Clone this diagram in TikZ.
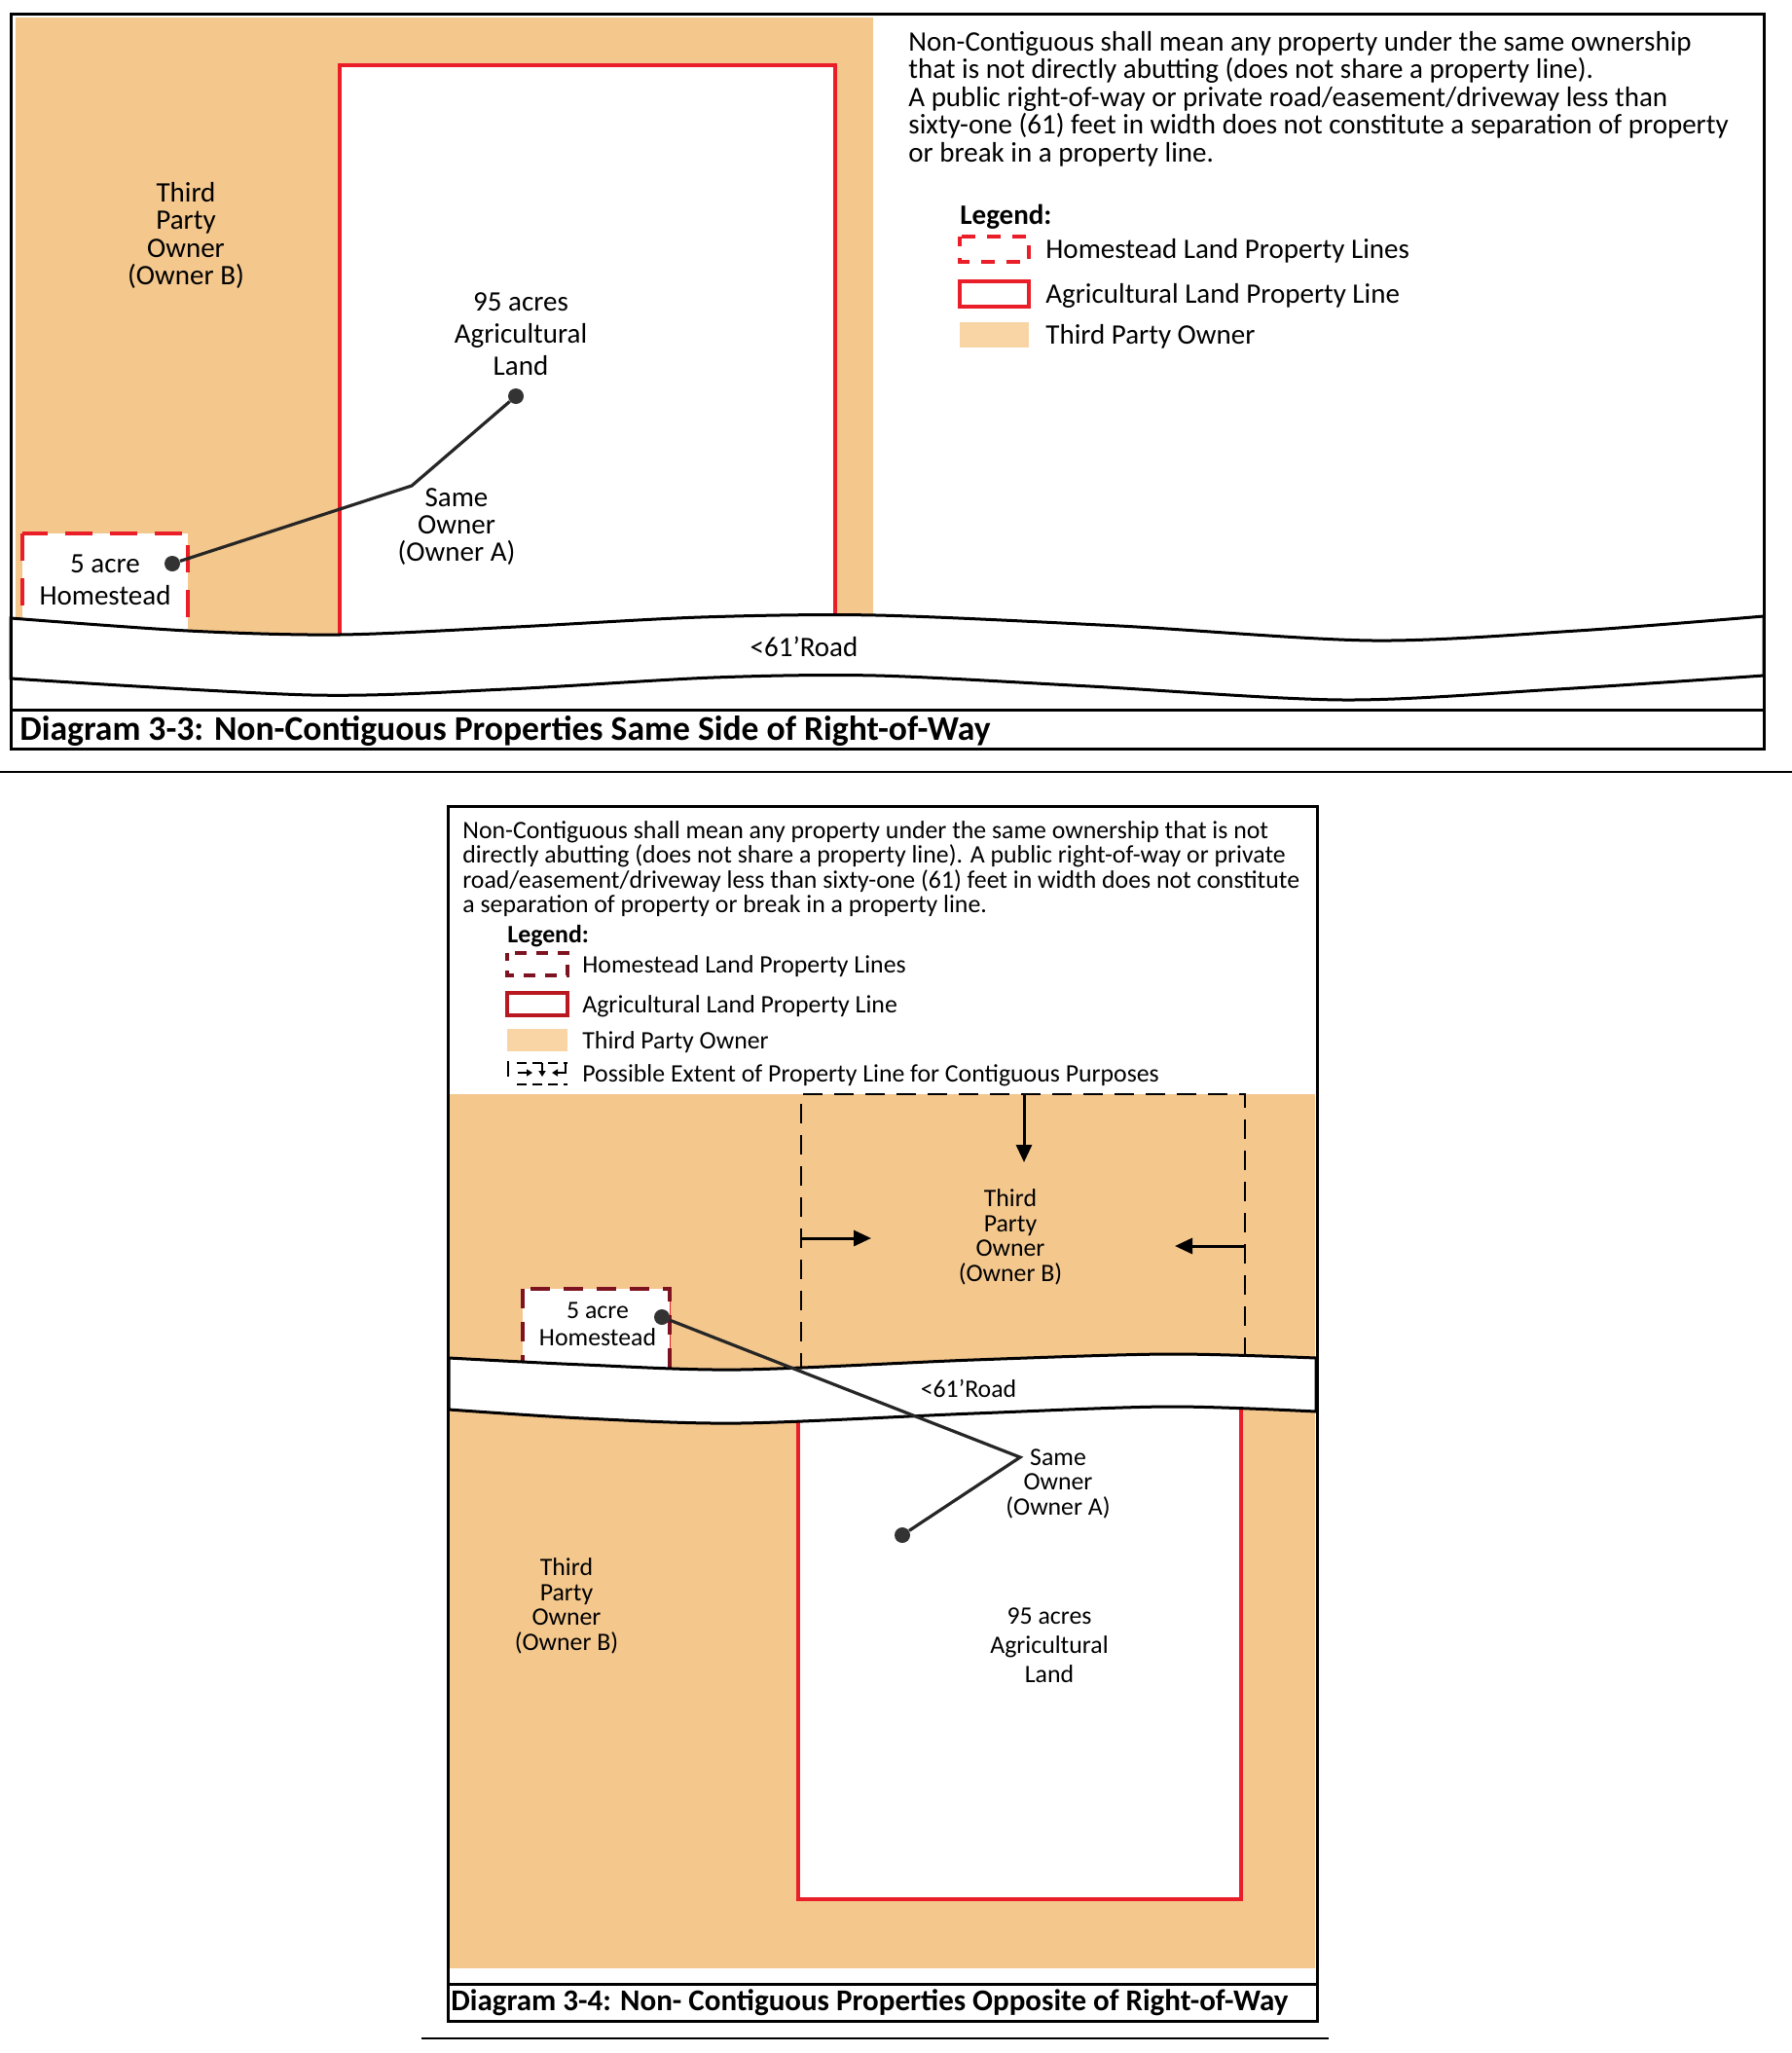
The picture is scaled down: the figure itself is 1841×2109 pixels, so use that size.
\documentclass[tikz,border=0pt]{standalone}
\usepackage{fontspec}
\setmainfont{Carlito}
\usepackage[x11names]{xcolor}
\usetikzlibrary{calc, positioning, arrows.meta}
\definecolor{ownerB}{RGB}{244,199,141}
\definecolor{ownerBkey}{RGB}{249,213,166}
\definecolor{lotred}{RGB}{233,30,40}
\definecolor{lotdark}{RGB}{125,18,32}
\newcommand\pxfont[2]{\fontsize{#1}{#2}\selectfont}
\newcommand\legrow[5]{% left x, top y, icon style, node name, text
  \draw[#3] (#1,#2) rectangle ++(\keyw,\keyh); % key box
  \node[anchor=west,inner sep=0pt] (#4) at ($(#1,#2)+(\keyw+\keygap,\keyh/2+2)$) {#5};
}

\begin{document}
\begin{tikzpicture}[x=0.5pt,y=-0.5pt,
    frame/.style={line width=1.5pt},
    road/.style={line width=1.5pt,fill=white},
    agri/.style={draw=lotred,line width=1.75pt,fill=white},
    homeA/.style={draw=lotred,line width=2.4pt,dash pattern=on 14pt off 9pt,fill=white},
    homeB/.style={draw=lotdark,line width=1.6pt,dash pattern=on 10pt off 7pt,fill=white,preaction={draw=lotred,solid}},
    extent/.style={line width=1.25pt,dash pattern=on 10pt off 6pt},
    link/.style={line width=1.6pt,black!85},
    dot/.style={circle,fill=black!80,inner sep=0pt,minimum size=8pt},
    push/.style={-{Triangle[length=9pt,width=8pt]},line width=1.5pt},
    tick/.style={-{Triangle[length=3pt,width=3.5pt]},line width=1pt},
    lbl/.style={align=center,inner sep=0pt},
    para/.style={align=left,inner sep=0pt,anchor=north west},
    caption/.style={anchor=west,inner sep=0pt}]
  \useasboundingbox (0,0) rectangle (1841,2109);

  % Diagram 3-3
  \begin{scope}[font=\pxfont{14.5}{14.2}]
    \fill[ownerB] (16,18) rectangle (897,680);
    \draw[agri] (349,67) rectangle (858,690);
    \draw[homeA] (23,548) rectangle (193,690);
    \draw[road] plot[smooth] coordinates {(11,635) (193,648) (349,652) (530,644) (720,634) (900,632) (1150,643) (1410,658) (1620,648) (1812,633)}
      -- plot[smooth] coordinates {(1812,694) (1600,708) (1380,719) (1120,705) (900,694) (733,696) (520,708) (320,714) (11,697)} -- cycle;
    \draw[frame] (11,14) rectangle (1812,769) (11,729) -- (1812,729);
    \node[dot] (home1) at (177,579) {};
    \node[dot] (agri1) at (530,407) {};
    \coordinate (bend1) at (423,499);
    \draw[link] (home1) -- (bend1) -- (agri1);
    \node[lbl] (owner1) at (191,242) {Third\\Party\\Owner\\(Owner B)};
    \node[lbl,font=\pxfont{14.5}{16.6}] (land1) at (535,343) {95 acres\\Agricultural\\Land};
    \node[lbl] (same1) at (469,541) {Same\\Owner\\(Owner A)};
    \node[lbl,font=\pxfont{14.5}{16.6}] (homelbl1) at (108,596) {5 acre\\Homestead};
    \node[lbl] (road1) at (826,664) {<61’Road};
    \node[caption,font=\pxfont{17.8}{17.8}\bfseries] (cap1) at (20,751) {Diagram 3-3: Non-Contiguous Properties Same Side of Right-of-Way};
    \node[para] (note1) at (933,32) {Non-Contiguous shall mean any property under the same ownership\\
      that is not directly abutting (does not share a property line).\\
      A public right-of-way or private road/easement/driveway less than\\
      sixty-one (61) feet in width does not constitute a separation of property\\
      or break in a property line.};
    \node[anchor=base west,inner sep=0pt,font=\pxfont{14.5}{14.2}\bfseries] (legend1) at (986,230) {Legend:};
    \def\keyw{71}\def\keyh{26}\def\keygap{17}
    \legrow{986}{243}{homeA,line width=2pt,dash pattern=on 7pt off 6pt,dash phase=2pt}{keyhome1}{Homestead Land Property Lines}
    \legrow{986}{289}{agri}{keyagri1}{Agricultural Land Property Line}
    \legrow{986}{331}{draw=none,fill=ownerBkey}{keyowner1}{Third Party Owner}
  \end{scope}

  \draw[line width=1pt] (0,793) -- (1841,793);

  % Diagram 3-4
  \begin{scope}[font=\pxfont{12.9}{12.75}]
    \fill[ownerB] (461,1124) rectangle (1351,2022);
    \draw[agri] (820,1425) rectangle (1275,1951);
    \draw[homeB] (537,1324) rectangle (688,1425);
    \draw[extent] (823,1410) -- (823,1124) -- (1279,1124) -- (1279,1410);
    \draw[road] plot[smooth] coordinates {(461,1395) (600,1402) (760,1407) (1000,1397) (1200,1391) (1352,1395)}
      -- plot[smooth] coordinates {(1352,1450) (1200,1445) (1000,1452) (760,1462) (600,1457) (461,1448)} -- cycle;
    \draw[frame] (460,828) rectangle (1353,2076) (460,2038) -- (1353,2038);
    \coordinate (extN) at (1052,1124);
    \coordinate (extW) at (823,1272);
    \coordinate (extE) at (1279,1280);
    \draw[push] (extN) -- ++(0,70);
    \draw[push] (extW) -- ++(72,0);
    \draw[push] (extE) -- ++(-72,0);
    \node[dot] (home2) at (680,1353) {};
    \node[dot] (agri2) at (927,1577) {};
    \coordinate (bend2) at (1048,1497);
    \draw[link] (home2) -- (bend2) -- (agri2);
    \node[lbl] (owner2) at (1038,1271) {Third\\Party\\Owner\\(Owner B)};
    \node[lbl,font=\pxfont{12.9}{14}] (homelbl2) at (614,1360) {5 acre\\Homestead};
    \node[lbl] (road2) at (995,1426) {<61’Road};
    \node[lbl] (same2) at (1087,1524) {Same\\Owner\\(Owner A)};
    \node[lbl] (owner3) at (582,1650) {Third\\Party\\Owner\\(Owner B)};
    \node[lbl,font=\pxfont{12.9}{15}] (land2) at (1078,1690) {95 acres\\Agricultural\\Land};
    \node[caption,font=\pxfont{15.5}{15.5}\bfseries] (cap2) at (463,2057) {Diagram 3-4: Non- Contiguous Properties Opposite of Right-of-Way};
    \node[para] (note2) at (475,843) {Non-Contiguous shall mean any property under the same ownership that is not\\
      directly abutting (does not share a property line). A public right-of-way or private\\
      road/easement/driveway less than sixty-one (61) feet in width does not constitute\\
      a separation of property or break in a property line.};
    \node[anchor=base west,inner sep=0pt,font=\pxfont{12.9}{12.75}\bfseries] (legend2) at (521,968) {Legend:};
    \def\keyw{62}\def\keyh{23}\def\keygap{15}
    \legrow{521}{979}{draw=lotdark,line width=1.6pt,dash pattern=on 6pt off 5pt,dash phase=2pt}{keyhome2}{Homestead Land Property Lines}
    \legrow{521}{1020}{agri,draw=lotred!80!black,line width=1.6pt}{keyagri2}{Agricultural Land Property Line}
    \legrow{521}{1057}{draw=none,fill=ownerBkey}{keyowner2}{Third Party Owner}
    \legrow{521}{1091}{draw=none}{keyext2}{Possible Extent of Property Line for Contiguous Purposes}
    \draw[line width=1.2pt] (522,1090) -- (522,1106);
    \draw[line width=1.2pt,dash pattern=on 5pt off 3pt] (531,1092) -- (583,1092) (531,1114) -- (583,1114);
    \draw[tick] (532,1102) -- (547,1102);
    \draw[tick] (557,1092) -- (557,1106);
    \draw[tick] (581,1092) -- (581,1102) -- (567,1102);
  \end{scope}

  \draw[line width=1pt] (433,2094) -- (1365,2094);
\end{tikzpicture}
\end{document}
